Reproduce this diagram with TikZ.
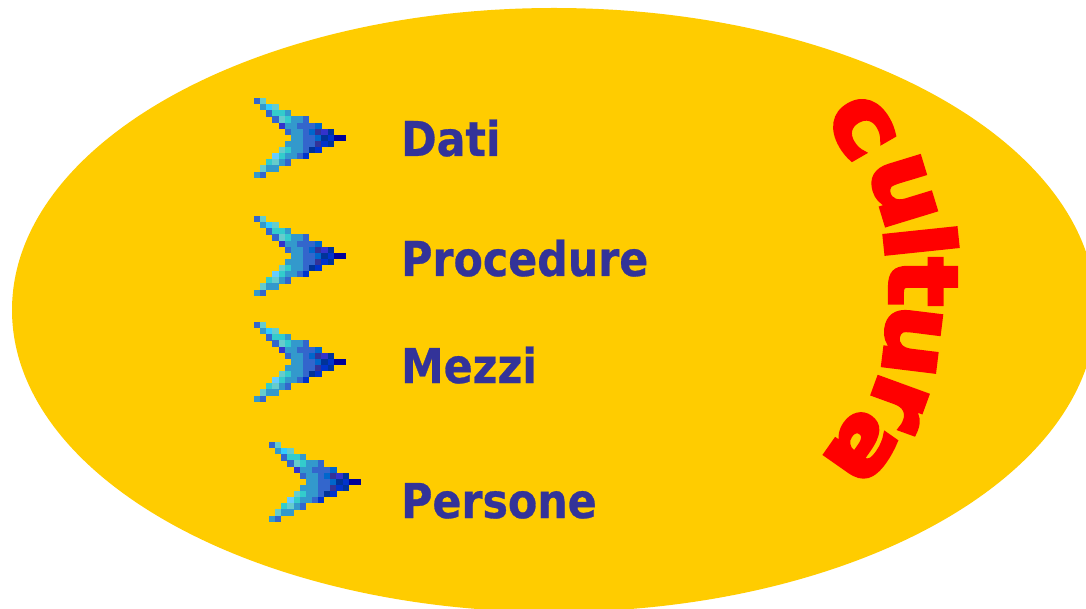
\documentclass[tikz,border=0pt]{standalone}
\usepackage{fontspec}
\setmainfont{DejaVu Sans}
\newfontfamily\labelfont[FakeStretch=0.89,FakeBold=0.6]{DejaVu Sans Bold}
\newfontfamily\heavyfont[FakeBold=4.5,FakeStretch=1.08]{DejaVu Sans Bold}
\definecolor{bgY}{HTML}{FFCC00}
\definecolor{labelC}{HTML}{333399}
\definecolor{pA}{HTML}{3366CC}
\definecolor{pB}{HTML}{66CCCC}
\definecolor{pC}{HTML}{3399CC}
\definecolor{pD}{HTML}{33CCFF}
\definecolor{pE}{HTML}{33CCCC}
\definecolor{pF}{HTML}{3333CC}
\definecolor{pG}{HTML}{0066CC}
\definecolor{pH}{HTML}{333399}
\definecolor{pI}{HTML}{003399}
\definecolor{pJ}{HTML}{0033CC}
\definecolor{pK}{HTML}{000099}
\definecolor{pL}{HTML}{66CCFF}
\tikzset{
  labeltext/.style={anchor=base west,inner sep=0pt,text=labelC,font=\fontsize{48}{48}\labelfont},
  curveletter/.style={inner sep=0pt,text=red,text depth=0pt,font=\fontsize{94}{94}\heavyfont}
}
\newcommand{\pxrow}[2]{\foreach \c/\k in {#2}{\fill[\k] (\c*6.13,#1*6.13) rectangle ++(6.3,6.3);}}
\tikzset{arrowglyph/.pic={
  \pxrow{0}{0/pA,1/pB}
  \pxrow{1}{1/pC,2/pD,3/pB}
  \pxrow{2}{2/pA,3/pE,4/pE,5/pC}
  \pxrow{3}{3/pA,4/pB,5/pE,6/pC,7/pC,8/pA}
  \pxrow{4}{4/pF,5/pC,6/pC,7/pA,8/pA,9/pA,10/pG}
  \pxrow{5}{5/pA,6/pC,7/pC,8/pA,9/pG,10/pH,11/pF,12/pI}
  \pxrow{6}{6/pC,7/pC,8/pA,9/pA,10/pG,11/pI,12/pJ,13/pK,14/pK}
  \pxrow{7}{5/pC,6/pC,7/pC,8/pA,9/pA,10/pH,11/pJ,12/pI}
  \pxrow{8}{4/pB,5/pE,6/pC,7/pC,8/pA,9/pI,10/pJ}
  \pxrow{9}{3/pL,4/pE,5/pC,6/pC,7/pA,8/pJ}
  \pxrow{10}{2/pE,3/pB,4/pC,5/pA}
  \pxrow{11}{1/pB,2/pC,3/pC}
  \pxrow{12}{0/pC,1/pA}
}}
\begin{document}
\begin{tikzpicture}[x=1pt,y=-1pt]
\useasboundingbox (0,0) rectangle (1086,609);
\clip (0,0) rectangle (1086,609);
\fill[white] (0,0) rectangle (1086,609);
\fill[bgY] (554,310) ellipse [x radius=542,y radius=302];
\pic at (254,98) {arrowglyph};
\pic at (254,216) {arrowglyph};
\pic at (254,322) {arrowglyph};
\pic at (269,442) {arrowglyph};
\node[labeltext] (dati) at (401,156) {Dati};
\node[labeltext] (procedure) at (401,276) {Procedure};
\node[labeltext] (mezzi) at (401,383) {Mezzi};
\node[labeltext] (persone) at (401,518) {Persone};
\node[curveletter,rotate=-60] (c1) at (862,127) {c};
\node[curveletter,rotate=-73] (c2) at (903,191) {u};
\node[curveletter,rotate=-84] (c3) at (921,241) {l};
\node[curveletter,rotate=-90] (c4) at (923,282) {t};
\node[curveletter,rotate=-97] (c5) at (912,341) {u};
\node[curveletter,rotate=-110] (c6) at (898,402) {r};
\node[curveletter,rotate=-125] (c7) at (862,448) {a};
\end{tikzpicture}
\end{document}
